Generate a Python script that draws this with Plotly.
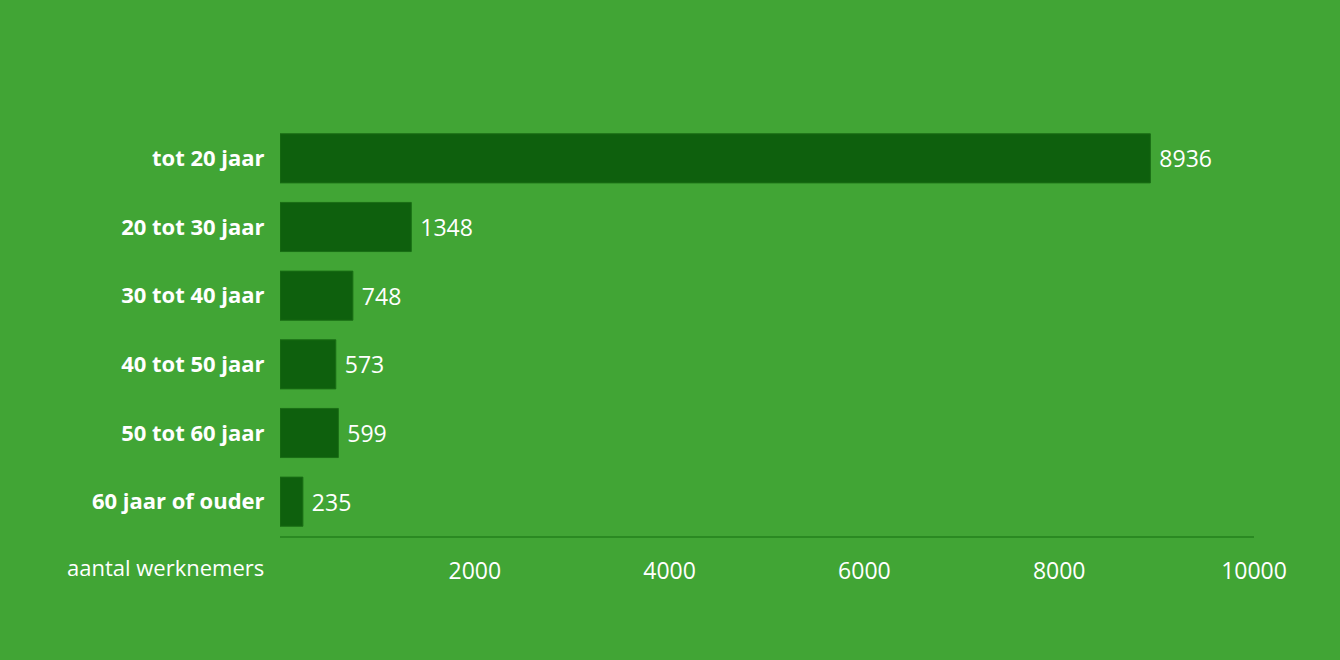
import plotly.graph_objects as go

leeftijden = ['tot 20 jaar', '20 tot 30 jaar', '30 tot 40 jaar',
              '40 tot 50 jaar', '50 tot 60 jaar', '60 jaar of ouder']
werknemers = [8936, 1348, 748, 573, 599, 235]
tick_waarden = [2000, 4000, 6000, 8000, 10000]
tick_teksten = ['2000', '4000', '6000', '8000', '10000']

bg = '#41a535'
bar_kleur = '#0e600d'
font = 'Open Sans'

fig = go.Figure(go.Bar(
    y=leeftijden,
    x=werknemers,
    orientation='h',
    marker=dict(color=bar_kleur, line=dict(color='#1a6e15', width=1)),
    text=werknemers,
    texttemplate=' %{x}',
    textposition='outside',
    textfont=dict(color='white', size=23, family=font),
    cliponaxis=False,
    hoverinfo='skip',
))

fig.update_layout(
    width=1340, height=660,
    paper_bgcolor=bg, plot_bgcolor=bg,
    margin=dict(l=280, r=86, t=124, b=124),
    bargap=0.285,
    showlegend=False,
    font=dict(family=font, color='white'),
)

fig.update_yaxes(
    autorange='reversed',
    showgrid=False, zeroline=False,
    ticks='outside', ticklen=10, tickcolor='rgba(0,0,0,0)',
    tickfont=dict(size=22, family=font, color='white', weight='bold'),
    showline=False,
)

fig.update_xaxes(
    range=[0, 10000],
    tickvals=tick_waarden,
    ticktext=tick_teksten,
    showgrid=False, zeroline=False,
    showline=True, linecolor='#2a8a22', linewidth=2,
    ticks='outside', ticklen=13, tickcolor='rgba(0,0,0,0)',
    tickfont=dict(size=23, family=font, color='white'),
)

fig.add_annotation(
    text='aantal werknemers', xref='paper', yref='paper',
    x=0, y=0, xanchor='right', yanchor='top', xshift=-14, yshift=-14,
    showarrow=False, font=dict(size=22, family=font, color='white'),
)

# geen witte rand rond de grafiek
fig.write_html('out.html', config={'displayModeBar': False},
               post_script="document.body.style.margin='0';")
